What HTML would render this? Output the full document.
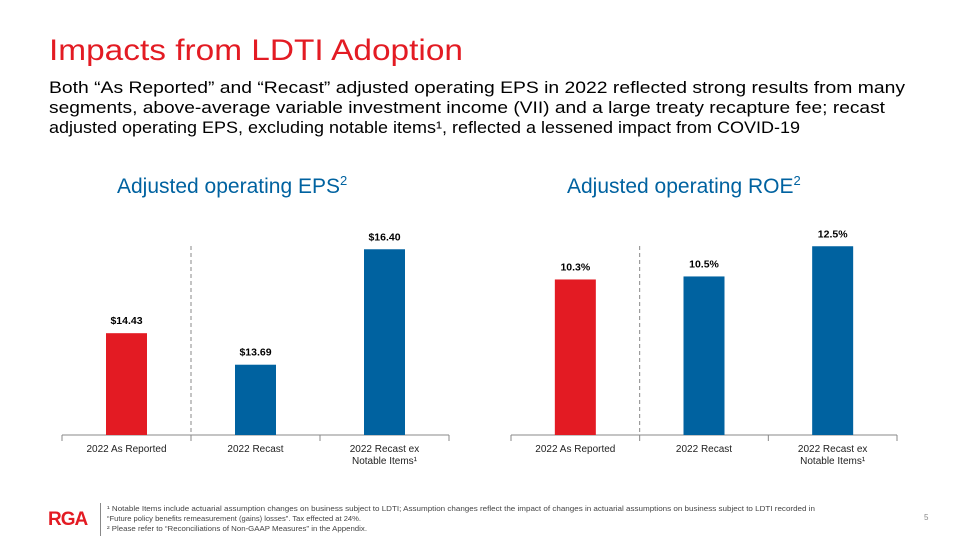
<!DOCTYPE html>
<html><head><meta charset="utf-8"><style>
body{margin:0;background:#fff;font-family:"Liberation Sans",Arial,sans-serif;}
#slide{position:relative;width:960px;height:540px;overflow:hidden;background:#fff;}
.ct{position:absolute;font-size:21px;color:#0062a0;}
.ct sup{font-size:13px;}
svg{position:absolute;left:0;top:0;}
</style></head><body>
<div id="slide">
<svg width="960" height="540" style="position:absolute;left:0;top:0" font-family="Liberation Sans, Arial, sans-serif">
<text x="49" y="60" font-size="30" fill="#e31b23" textLength="414" lengthAdjust="spacingAndGlyphs">Impacts  from LDTI Adoption</text>
<g font-size="16.5" fill="#000">
<text x="49" y="93" textLength="856" lengthAdjust="spacingAndGlyphs">Both “As Reported” and “Recast” adjusted operating EPS in 2022 reflected strong results from many</text>
<text x="49" y="113" textLength="836" lengthAdjust="spacingAndGlyphs">segments, above-average variable investment income (VII) and a large treaty recapture fee; recast</text>
<text x="49" y="133" textLength="751" lengthAdjust="spacingAndGlyphs">adjusted operating EPS, excluding notable items¹, reflected a lessened impact from COVID-19</text>
</g>
<g font-size="7.5" fill="#444">
<text x="107" y="511" textLength="708" lengthAdjust="spacingAndGlyphs">¹ Notable Items include actuarial assumption changes on business subject to LDTI; Assumption changes reflect the impact of changes in actuarial assumptions on business subject to LDTI recorded in</text>
<text x="107" y="521" textLength="254" lengthAdjust="spacingAndGlyphs">“Future policy benefits remeasurement (gains) losses”. Tax effected at 24%.</text>
<text x="107" y="531" textLength="260" lengthAdjust="spacingAndGlyphs">² Please refer to “Reconciliations of Non-GAAP Measures” in the Appendix.</text>
</g>
</svg>
<div class="ct" style="left:117px;top:173px">Adjusted operating EPS<sup>2</sup></div>
<div class="ct" style="left:567px;top:173px">Adjusted operating ROE<sup>2</sup></div>
<svg id="chart" width="960" height="540"></svg>
<div style="position:absolute;left:48px;top:509px;font-size:19px;font-weight:bold;color:#e31b23;letter-spacing:-1px">RGA</div>
<div style="position:absolute;left:100px;top:503px;width:1px;height:33px;background:#888"></div>
<div style="position:absolute;left:924px;top:513px;font-size:8px;color:#888">5</div>
</div>
<script>
const categories=["2022 As Reported","2022 Recast","2022 Recast ex|Notable Items¹"];
const epsValues=[14.43,13.69,16.40];
const epsLabels=["$14.43","$13.69","$16.40"];
const roeValues=[10.3,10.5,12.5];
const roeLabels=["10.3%","10.5%","12.5%"];
const barColors=["#e31b23","#0062a0","#0062a0"];
const NS="http://www.w3.org/2000/svg";
const svg=document.getElementById('chart');
function mk(t,a){const e=document.createElementNS(NS,t);for(const k in a)e.setAttribute(k,a[k]);svg.appendChild(e);return e;}
function draw(x0,x1,base,vmin,k,vals,labs,prefix){
  const w=(x1-x0)/categories.length;
  const y=v=>base-(v-vmin)*k;
  const ax=mk('line',{x1:x0,x2:x1,y1:base,y2:base,stroke:'#888','stroke-width':1});
  
  for(let i=0;i<=categories.length;i++){const t=mk('line',{x1:x0+i*w,x2:x0+i*w,y1:base,y2:base+6,stroke:'#888'});
    }
  const d=mk('line',{x1:x0+w,x2:x0+w,y1:246,y2:base,stroke:'#888','stroke-dasharray':'4,3'});
  
  vals.forEach((v,i)=>{
    const cx=x0+w*(i+0.5);
    const r=mk('rect',{x:cx-20.5,y:y(v),width:41,height:base-y(v),fill:barColors[i]});
    
    const t=mk('text',{x:cx,y:y(v)-9,'text-anchor':'middle','font-size':'10.5','font-weight':'bold',fill:'#000','font-family':'Liberation Sans, Arial, sans-serif'});
    t.textContent=labs[i];
    categories[i].split('|').forEach((s,j)=>{const c=mk('text',{x:cx,y:base+17+j*12,'text-anchor':'middle','font-size':'10',fill:'#222','font-family':'Liberation Sans, Arial, sans-serif'});
      c.textContent=s;});
  });
}
draw(62,449,435,12.04,42.6,epsValues,epsLabels,'eps');
draw(511,897,435,0,15.1,roeValues,roeLabels,'roe');
</script>
</body></html>
